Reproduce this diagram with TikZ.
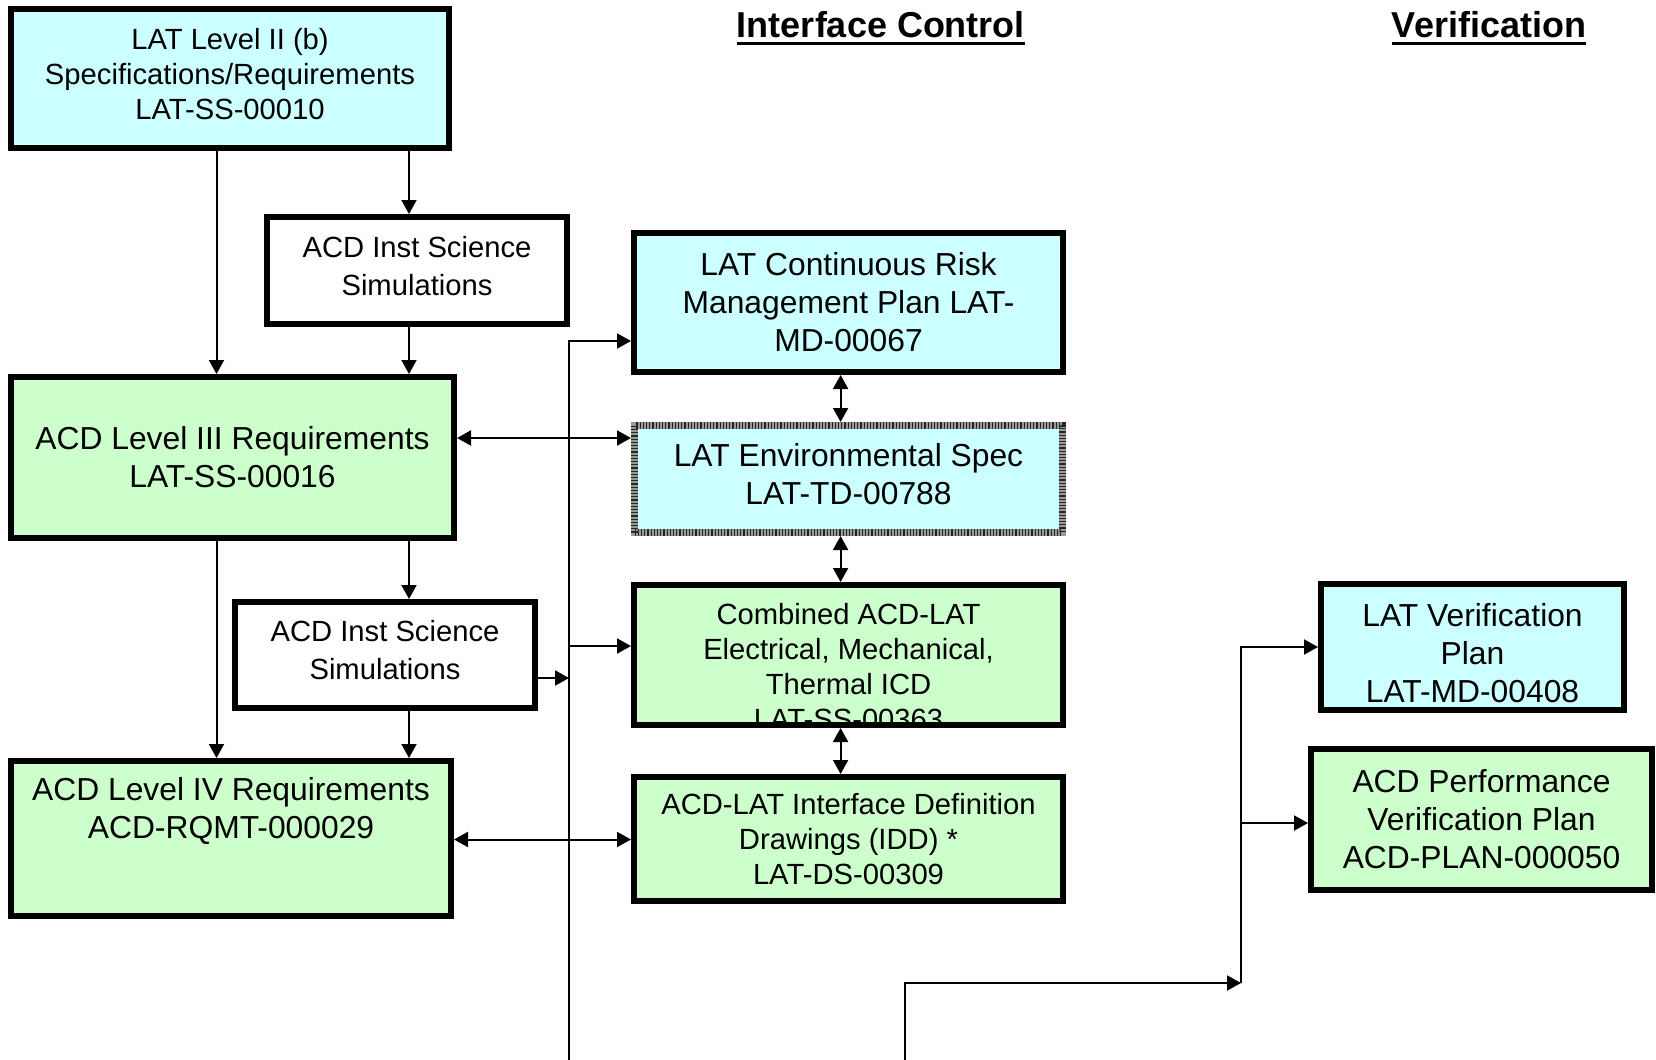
\documentclass[tikz,border=0pt]{standalone}
\usepackage{fontspec}
\setmainfont{Liberation Sans}
\usetikzlibrary{arrows.meta,positioning}

\definecolor{latcyan}{HTML}{CCFFFF}
\definecolor{acdgreen}{HTML}{CCFFCC}
\newlength{\hdwd}
\newcommand{\hdul}[1]{\settowidth{\hdwd}{#1}\rlap{#1}\rule[-3.5pt]{\hdwd}{1.3pt}}
\newcommand{\docfontL}{\fontsize{15.9}{19}\selectfont}
\newcommand{\docfontM}{\fontsize{14.6}{19}\selectfont}
\newcommand{\docfontS}{\fontsize{14.6}{17.5}\selectfont}

\tikzset{
  docbox/.style={rectangle, draw, line width=3pt, inner sep=0pt, align=center},
  latdoc/.style={docbox, fill=latcyan},
  acddoc/.style={docbox, fill=acdgreen},
  simdoc/.style={docbox, fill=white, font=\docfontM, text depth=5pt},
  envdoc/.style={docbox, fill=latcyan, draw=black!40, line width=3.5pt,
    postaction={draw=black!85, line width=3.5pt, dash pattern=on 0.6pt off 1pt}},
  lnk/.style={line width=1pt, -{Triangle[length=7pt,width=7.5pt]}},
  dlnk/.style={line width=1pt, {Triangle[length=7pt,width=7.5pt]}-{Triangle[length=7pt,width=7.5pt]}},
  hdr/.style={font=\fontsize{18}{22}\selectfont\bfseries, anchor=base}
}

\begin{document}
\begin{tikzpicture}[x=0.5pt,y=-0.5pt]
\useasboundingbox (0,0) rectangle (1656,1060);

% column headings
\node[hdr] (ichead) at (881,38) {\hdul{Interface Control}};
\node[hdr] (verhead) at (1489,38) {\hdul{Verification}};

% requirements column
\node[latdoc, minimum width=219pt, minimum height=69.5pt, font=\docfontS, text depth=5pt] (lat2) at (230,78.5)
  {LAT Level II (b)\\Specifications/Requirements\\LAT-SS-00010};
\node[simdoc, minimum width=150pt, minimum height=53.5pt] (sim1) at (417,270.5)
  {ACD Inst Science\\Simulations};
\node[acddoc, minimum width=221.5pt, minimum height=80.5pt, font=\docfontL] (lvl3) at (232.5,457.5)
  {ACD Level III Requirements\\LAT-SS-00016};
\node[simdoc, minimum width=150pt, minimum height=53pt] (sim2) at (385,655)
  {ACD Inst Science\\Simulations};
\node[acddoc, minimum width=220pt, minimum height=77.5pt, font=\docfontL, text depth=31pt] (lvl4) at (231,838.5)
  {ACD Level IV Requirements\\ACD-RQMT-000029};

% interface control column
\node[latdoc, minimum width=214.5pt, minimum height=69.5pt, font=\docfontL] (crmp) at (848.5,302.5)
  {LAT Continuous Risk\\Management Plan LAT-\\MD-00067};
\node[envdoc, minimum width=214pt, minimum height=53.5pt, font=\docfontL, text depth=5pt] (env) at (848.5,479)
  {LAT Environmental Spec\\LAT-TD-00788};
\node[acddoc, minimum width=214.5pt, minimum height=70pt,
  path picture={\node[anchor=north, align=center, inner sep=0pt, font=\docfontS] (icdtext)
    at ([yshift=-4.5pt]path picture bounding box.north)
    {Combined ACD-LAT\\Electrical, Mechanical,\\Thermal ICD\\LAT-SS-00363};}] (icd) at (848.5,655) {};
\node[acddoc, minimum width=214.5pt, minimum height=62pt, font=\docfontS] (idd) at (848.5,839)
  {ACD-LAT Interface Definition\\Drawings (IDD) *\\LAT-DS-00309};

% verification column
\node[latdoc, minimum width=151.5pt, minimum height=63pt, font=\docfontL, text height=56pt] (latver) at (1472.5,647)
  {LAT Verification\\Plan\\LAT-MD-00408};
\node[acddoc, minimum width=170.5pt, minimum height=70.5pt, font=\docfontL] (acdver) at (1481.5,819.5)
  {ACD Performance\\Verification Plan\\ACD-PLAN-000050};

% connector points
\coordinate (xl) at (216.5,0);
\coordinate (xr) at (409,0);
\coordinate (xm) at (840.6,0);
\coordinate (jF) at (569,341);
\coordinate (jCG) at (569,438);
\coordinate (jH) at (569,646);
\coordinate (jD) at (569,678);
\coordinate (yEI) at (0,839.5);
\coordinate (busbot) at (569,1060);
\coordinate (vbot) at (905,1060);
\coordinate (jV) at (1241,983);
\coordinate (jK) at (1241,823);

\draw[lnk] (lat2.south -| xl) -- (lvl3.north -| xl);
\draw[lnk] (lat2.south -| xr) -- (sim1.north -| xr);
\draw[lnk] (sim1.south -| xr) -- (lvl3.north -| xr);
\draw[lnk] (lvl3.south -| xl) -- (lvl4.north -| xl);
\draw[lnk] (lvl3.south -| xr) -- (sim2.north -| xr);
\draw[lnk] (sim2.south -| xr) -- (lvl4.north -| xr);

\draw[lnk] (busbot) |- (crmp.west |- jF);
\draw[lnk] (jH) -- (icd.west |- jH);
\draw[lnk] (sim2.east |- jD) -- (jD);
\draw[dlnk] (lvl3.east |- jCG) -- (env.west |- jCG);
\draw[dlnk] (lvl4.east |- yEI) -- (idd.west |- yEI);

\draw[dlnk] (crmp.south -| xm) -- (env.north -| xm);
\draw[dlnk] (env.south -| xm) -- (icd.north -| xm);
\draw[dlnk] (icd.south -| xm) -- (idd.north -| xm);

\draw[lnk] (vbot) |- (jV);
\draw[lnk] (jV) |- (latver.west);
\draw[lnk] (jK) -- (acdver.west |- jK);
\end{tikzpicture}
\end{document}
